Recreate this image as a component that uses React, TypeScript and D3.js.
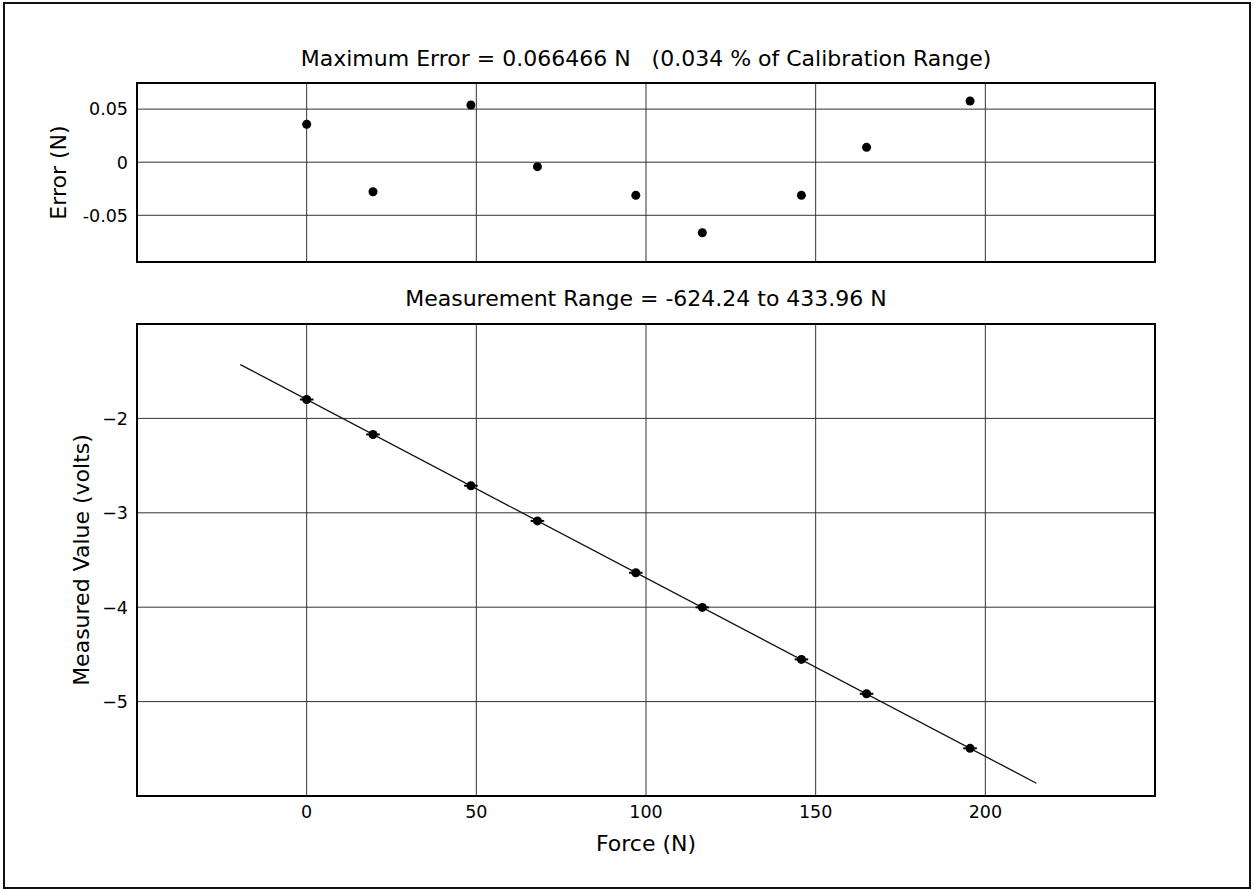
import React from "react";
import * as d3 from "d3";

const width = 1254;
const height = 890;

// calibration points (force in N)
const forces = [0, 19.55, 48.4, 68.0, 97.0, 116.6, 145.8, 165.0, 195.5];
const errors = [0.0357, -0.0278, 0.0539, -0.0042, -0.0312, -0.066466, -0.0312, 0.014, 0.0576];
const measured = [-1.8, -2.17, -2.713, -3.086, -3.635, -4.002, -4.553, -4.917, -5.495];
const forceErr = [2, 2, 2, 2, 2, 2, 2, 2, 2];

// fitted line end points
const fitForce = [-19.55, 215.05];
const fitValue = [-1.43, -5.865];

const xTicks = [0, 50, 100, 150, 200];
const errTicks = [0.05, 0, -0.05];
const errTickLabels = ["0.05", "0", "-0.05"];
const valTicks = [-2, -3, -4, -5];
const valTickLabels = ["\u22122", "\u22123", "\u22124", "\u22125"];

const titleTop = "Maximum Error = 0.066466 N   (0.034 % of Calibration Range)";
const titleBottom = "Measurement Range = -624.24 to 433.96 N";

const font = "DejaVu Sans, sans-serif";
const left = 137;
const right = 1155;
const top1 = { y0: 83, y1: 262 };
const top2 = { y0: 324, y1: 796 };

const x = d3.scaleLinear().domain([-50, 250]).range([left, right]);
const yErr = d3.scaleLinear().domain([-0.094, 0.0746]).range([top1.y1, top1.y0]);
const yVal = d3.scaleLinear().domain([-6, -1]).range([top2.y1, top2.y0]);

const App = () => {
  const fitLine = d3
    .line<number>()
    .x((d) => x(d))
    .y((d, i) => yVal(fitValue[i]))(fitForce);

  const grid = "#333";
  const tickSize = 17.5;
  const labelSize = 22;

  return (
    <svg
      width={width}
      height={height}
      style={{ position: "absolute", left: 0, top: 0, background: "#fff" }}
      fontFamily={font}
    >
      <rect x={4} y={3} width={1246} height={885} fill="#fff" stroke="#111" strokeWidth={2} />

      {/* top panel: errors */}
      <g>
        {xTicks.map((t) => (
          <line key={t} x1={x(t)} x2={x(t)} y1={top1.y0} y2={top1.y1} stroke={grid} strokeWidth={1} />
        ))}
        {errTicks.map((t) => (
          <line key={t} x1={left} x2={right} y1={yErr(t)} y2={yErr(t)} stroke={grid} strokeWidth={1} />
        ))}
        {errTicks.map((t, i) => (
          <text key={t} x={128} y={yErr(t)} dy="0.36em" textAnchor="end" fontSize={tickSize}>
            {errTickLabels[i]}
          </text>
        ))}
        {forces.map((f, i) => (
          <circle key={i} cx={x(f)} cy={yErr(errors[i])} r={4.5} fill="#000" />
        ))}
        <rect x={left} y={top1.y0} width={right - left} height={top1.y1 - top1.y0} fill="none" stroke="#000" strokeWidth={2} />
        <text x={(left + right) / 2} y={66} textAnchor="middle" fontSize={labelSize} style={{ whiteSpace: "pre" }}>
          {titleTop}
        </text>
        <text transform={`translate(66,${(top1.y0 + top1.y1) / 2}) rotate(-90)`} textAnchor="middle" fontSize={labelSize}>
          Error (N)
        </text>
      </g>

      {/* bottom panel: measured values */}
      <g>
        {xTicks.map((t) => (
          <line key={t} x1={x(t)} x2={x(t)} y1={top2.y0} y2={top2.y1} stroke={grid} strokeWidth={1} />
        ))}
        {valTicks.map((t) => (
          <line key={t} x1={left} x2={right} y1={yVal(t)} y2={yVal(t)} stroke={grid} strokeWidth={1} />
        ))}
        {valTicks.map((t, i) => (
          <text key={t} x={128} y={yVal(t)} dy="0.36em" textAnchor="end" fontSize={tickSize}>
            {valTickLabels[i]}
          </text>
        ))}
        <path d={fitLine || ""} fill="none" stroke="#111" strokeWidth={1.3} />
        {forces.map((f, i) => (
          <g key={i}>
            <line
              x1={x(f - forceErr[i])}
              x2={x(f + forceErr[i])}
              y1={yVal(measured[i])}
              y2={yVal(measured[i])}
              stroke="#000"
              strokeWidth={2}
            />
            <circle cx={x(f)} cy={yVal(measured[i])} r={4.5} fill="#000" />
          </g>
        ))}
        <rect x={left} y={top2.y0} width={right - left} height={top2.y1 - top2.y0} fill="none" stroke="#000" strokeWidth={2} />
        {xTicks.map((t) => (
          <text key={t} x={x(t)} y={818} textAnchor="middle" fontSize={tickSize}>
            {t}
          </text>
        ))}
        <text x={(left + right) / 2} y={306} textAnchor="middle" fontSize={labelSize}>
          {titleBottom}
        </text>
        <text transform={`translate(89,${(top2.y0 + top2.y1) / 2}) rotate(-90)`} textAnchor="middle" fontSize={labelSize}>
          Measured Value (volts)
        </text>
        <text x={(left + right) / 2} y={851} textAnchor="middle" fontSize={labelSize}>
          Force (N)
        </text>
      </g>
    </svg>
  );
};

export default App;
